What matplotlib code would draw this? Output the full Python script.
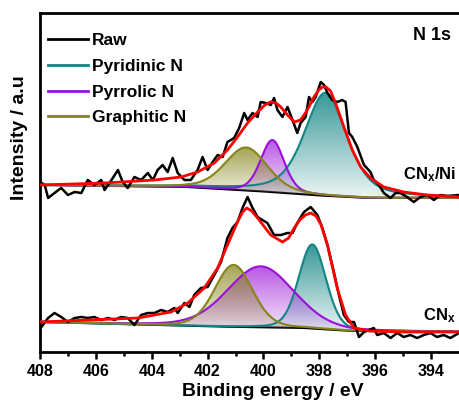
import numpy as np
import matplotlib.pyplot as plt
from matplotlib.colors import to_rgb

plt.rcParams['font.family'] = ['Liberation Sans', 'DejaVu Sans']
plt.rcParams['font.weight'] = 'bold'
plt.rcParams['mathtext.fontset'] = 'custom'
plt.rcParams['mathtext.rm'] = 'Liberation Sans:bold'
plt.rcParams['mathtext.bf'] = 'Liberation Sans:bold'
plt.rcParams['mathtext.it'] = 'Liberation Sans:bold'

# ---- CNx/Ni (upper trace), intensity in arbitrary units ----
ni_raw_e = [408.0, 407.83, 407.71, 407.48, 407.24, 407.0, 406.76, 406.52, 406.29, 406.05,
            405.81, 405.69, 405.51, 405.21, 405.04, 404.86, 404.62, 404.38, 404.14, 403.96,
            403.79, 403.61, 403.43, 403.25, 403.07, 402.83, 402.6, 402.36, 402.18, 402.0,
            401.82, 401.64, 401.46, 401.29, 401.05, 400.87, 400.69, 400.57, 400.39, 400.21,
            400.1, 399.92, 399.74, 399.62, 399.5, 399.32, 399.14, 398.96, 398.79, 398.67,
            398.49, 398.37, 398.25, 398.13, 397.95, 397.83, 397.71, 397.54, 397.36, 397.18,
            397.06, 396.94, 396.82, 396.64, 396.4, 396.17, 396.05, 395.87, 395.69, 395.45,
            395.27, 395.1, 394.86, 394.62, 394.38, 394.14, 393.9, 393.67, 393.43, 393.0]
ni_raw_i = [170, 167, 154, 159, 164, 157, 160, 159, 172, 167,
            172, 162, 169, 182, 170, 164, 175, 172, 179, 172,
            182, 187, 180, 194, 179, 172, 172, 182, 195, 182,
            190, 197, 195, 210, 214, 224, 239, 232, 239, 235,
            250, 249, 247, 254, 242, 235, 245, 232, 219, 229,
            235, 255, 250, 255, 270, 267, 259, 252, 250, 252,
            250, 219, 215, 205, 187, 180, 172, 167, 159, 154,
            159, 159, 155, 150, 155, 157, 152, 157, 156, 157]
ni_fit_e = [408.0, 405.69, 403.9, 402.95, 402.36, 401.76, 401.29, 400.93, 400.57, 400.21,
            399.95, 399.75, 399.55, 399.38, 399.14, 398.9, 398.67, 398.43, 398.19, 398.02,
            397.89, 397.76, 397.6, 397.42, 397.12, 396.82, 396.52, 396.17, 395.69, 394.98,
            394.14, 393.0]
ni_fit_i = [167, 169, 172, 175, 180, 189, 202, 215, 229, 240,
            247, 250, 249, 245, 237, 230, 232, 242, 255, 262,
            265, 265, 261, 249, 225, 202, 185, 174, 165, 160,
            157, 155]
ni_bg_e = [408.0, 402.7, 399.7, 397.7, 396.2, 393.0]
ni_bg_i = [167, 165, 160, 156, 154, 154]
# center (eV), FWHM (eV), height above background, Lorentzian fraction
ni_peaks = [(397.78, 1.8, 103, 0.5),   # Pyridinic N
            (399.68, 1.0, 52, 0.3),    # Pyrrolic N
            (400.62, 1.8, 43, 0.3)]    # Graphitic N

# ---- CNx (lower trace) ----
cn_raw_e = [408.0, 407.95, 407.71, 407.48, 407.24, 407.0, 406.76, 406.52, 406.29, 406.05,
            405.81, 405.57, 405.33, 405.1, 404.86, 404.62, 404.38, 404.14, 403.9, 403.67,
            403.43, 403.19, 403.07, 402.83, 402.65, 402.48, 402.24, 402.0, 401.76, 401.52,
            401.29, 401.11, 400.93, 400.75, 400.57, 400.39, 400.21, 400.04, 399.86, 399.62,
            399.38, 399.14, 398.96, 398.79, 398.55, 398.31, 398.07, 397.89, 397.71, 397.48,
            397.3, 397.12, 396.94, 396.76, 396.58, 396.4, 396.23, 396.05, 395.93, 395.69,
            395.45, 395.21, 394.98, 394.74, 394.5, 394.26, 394.02, 393.79, 393.55, 393.31, 393.0]
cn_raw_i = [27, 25, 34, 39, 35, 30, 34, 35, 34, 35,
            32, 34, 32, 35, 34, 27, 37, 39, 39, 42,
            40, 44, 39, 49, 45, 57, 64, 65, 77, 90,
            114, 124, 130, 144, 155, 144, 135, 132, 129, 117,
            117, 119, 119, 129, 140, 145, 137, 124, 107, 80,
            57, 37, 30, 30, 15, 20, 22, 24, 17, 19,
            14, 19, 15, 17, 14, 17, 19, 15, 17, 14, 19]
cn_fit_e = [408.0, 404.5, 403.31, 402.71, 402.12, 401.64, 401.29, 400.93, 400.75, 400.6,
            400.42, 400.21, 399.74, 399.32, 399.1, 398.9, 398.7, 398.5, 398.31, 398.12,
            397.95, 397.71, 397.36, 397.06, 396.76, 396.17, 394.98, 393.0]
cn_fit_i = [30, 34, 40, 49, 64, 84, 107, 130, 140, 144,
            141, 134, 117, 110, 114, 124, 132, 137, 139, 136,
            128, 107, 64, 37, 24, 21, 20, 20]
cn_bg_e = [408.0, 400.9, 398.5, 396.8, 393.0]
cn_bg_i = [30, 25, 24, 21, 20]
cn_peaks = [(398.25, 1.15, 84, 0.2),   # Pyridinic N
            (400.1, 2.8, 61, 0.2),     # Pyrrolic N
            (401.07, 1.6, 62, 0.2)]    # Graphitic N

labels = ["Pyridinic N", "Pyrrolic N", "Graphitic N"]
colors = ["#128585", "#9a10d8", "#85851a"]
fill_alpha = [0.85, 0.7, 0.75]


def pseudo_voigt(x, c, w, h, eta):
    g = np.exp(-4 * np.log(2) * ((x - c) / w) ** 2)
    l = 1.0 / (1 + 4 * ((x - c) / w) ** 2)
    return h * ((1 - eta) * g + eta * l)


def grad_fill(ax, x, lo, hi, color, a_top):
    poly = ax.fill_between(x, lo, hi, facecolor='none', edgecolor='none')
    grad = np.zeros((200, 1, 4))
    grad[:, :, :3] = to_rgb(color)
    grad[:, 0, 3] = np.linspace(0.08, a_top, 200)
    im = ax.imshow(grad, extent=[x.min(), x.max(), lo.min(), hi.max()],
                   origin='lower', aspect='auto', zorder=2, interpolation='bilinear')
    im.set_clip_path(poly.get_paths()[0], transform=ax.transData)


fig = plt.figure(figsize=(4.59, 4.03), dpi=100)
ax = fig.add_axes([40 / 459, 51 / 403, 419 / 459, 339 / 403])

x = np.linspace(393, 408, 601)
for raw_e, raw_i, fit_e, fit_i, bg_e, bg_i, peaks in [
        (ni_raw_e, ni_raw_i, ni_fit_e, ni_fit_i, ni_bg_e, ni_bg_i, ni_peaks),
        (cn_raw_e, cn_raw_i, cn_fit_e, cn_fit_i, cn_bg_e, cn_bg_i, cn_peaks)]:
    bg = np.interp(x, bg_e[::-1], bg_i[::-1])
    ax.plot(x, bg, color='black', lw=1.5, zorder=1)
    for (c, w, h, eta), col, a in zip(peaks, colors, fill_alpha):
        comp = bg + pseudo_voigt(x, c, w, h, eta)
        grad_fill(ax, x, bg, comp, col, a)
    for (c, w, h, eta), col in zip(peaks, colors):
        comp = bg + pseudo_voigt(x, c, w, h, eta)
        ax.plot(x, comp, color=col, lw=1.5, zorder=3)
    ax.plot(raw_e, raw_i, color='black', lw=1.8, zorder=4)
    ax.plot(fit_e, fit_i, color='red', lw=2.0, zorder=5)

# legend handles
ax.plot([], [], color='black', lw=2, label='Raw')
for lab, col in zip(labels, colors):
    ax.plot([], [], color=col, lw=2, label=lab)
h, l = ax.get_legend_handles_labels()
ax.legend(h, l, loc='upper left', bbox_to_anchor=(0.019, 0.94), frameon=False,
          handlelength=2.3, handletextpad=0.25, labelspacing=0.6,
          borderaxespad=0, borderpad=0, prop={'weight': 'bold', 'size': 12.5})

ax.set_xlim(408, 393)
ax.set_ylim(0, 339)
ax.set_xticks(np.arange(394, 409, 2))
ax.set_xticks(np.arange(395, 408, 2), minor=True)
ax.set_yticks([])
ax.tick_params(axis='x', which='major', direction='out', length=5, width=1.8,
               labelsize=11.5, pad=4)
ax.tick_params(axis='x', which='minor', direction='out', length=3, width=1.8)
for lab in ax.get_xticklabels():
    lab.set_fontweight('bold')
for s in ['left', 'top', 'bottom']:
    ax.spines[s].set_linewidth(2)
ax.spines['right'].set_visible(False)

fig.text(432 / 459, 1 - 35 / 403, 'N 1s', ha='center', va='center', fontsize=13, fontweight='bold')
fig.text(456 / 459, 1 - 175 / 403, r'CN$_\mathbf{x}$/Ni', ha='right', va='center', fontsize=12, fontweight='bold')
fig.text(456 / 459, 1 - 316 / 403, r'CN$_\mathbf{x}$', ha='right', va='center', fontsize=12, fontweight='bold')
fig.text(20 / 459, 1 - 138 / 403, 'Intensity / a.u', rotation=90, ha='center', va='center',
         fontsize=14, fontweight='bold')
fig.text(273 / 459, 1 - 396 / 403, 'Binding energy / eV', ha='center', va='baseline',
         fontsize=14, fontweight='bold')

fig.savefig('out.png', dpi=100)
